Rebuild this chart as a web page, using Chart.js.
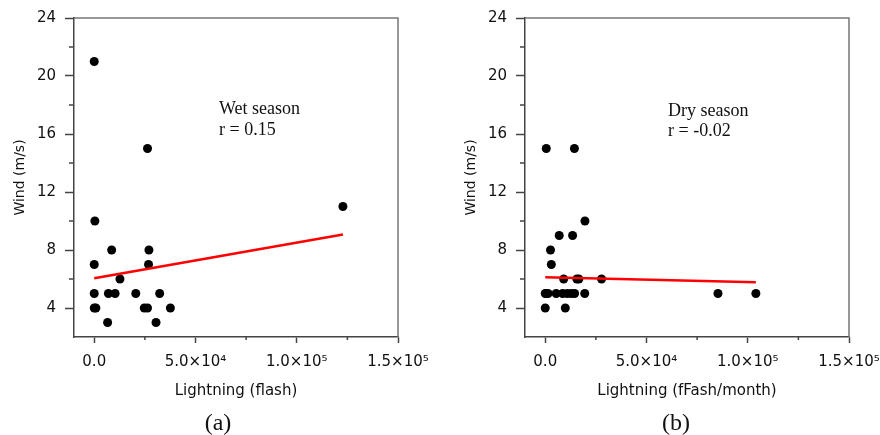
<!DOCTYPE html>
<html>
<head>
<meta charset="utf-8">
<script src="https://cdn.jsdelivr.net/npm/chart.js@4.4.1/dist/chart.umd.min.js"></script>
<style>
  html, body { margin: 0; padding: 0; background: #fff; }
  #wrap { position: relative; width: 880px; height: 435px; overflow: hidden; }
  canvas { position: absolute; top: 0; }
  #panelA { left: 0; }
  #panelB { left: 440px; }
</style>
</head>
<body>
<div id="wrap">
  <canvas id="panelA" width="440" height="435"></canvas>
  <canvas id="panelB" width="440" height="435"></canvas>
</div>
<script>
// Wet season (panel a)
const wetLightning = [0, 26300, 122800, 300, 8600, 27000, 0, 26800, 12700, 0, 7000, 10300, 20500, 32300, 0, 800, 24700, 26300, 37600, 6600, 30500];
const wetWind = [21, 15, 11, 10, 8, 8, 7, 7, 6, 5, 5, 5, 5, 5, 4, 4, 4, 4, 4, 3, 3];
const wetFitX = [0, 122800];
const wetFitY = [6.05, 9.07];

// Dry season (panel b)
const dryLightning = [500, 14400, 19600, 6900, 13500, 2600, 3000, 9100, 15600, 16600, 27800, 0, 500, 1400, 5400, 8600, 10900, 12900, 14500, 19500, 85300, 104000, 0, 9900];
const dryWind = [15, 15, 10, 9, 9, 8, 7, 6, 6, 6, 6, 5, 5, 5, 5, 5, 5, 5, 5, 5, 5, 5, 4, 4];
const dryFitX = [0, 104000];
const dryFitY = [6.12, 5.78];

// Axis ticks
const xTicks = [0, 50000, 100000, 150000];
const xTickLabels = ['0.0', '5.0×10⁴', '1.0×10⁵', '1.5×10⁵'];
const xMinorTicks = [25000, 75000, 125000];
const yTicks = [4, 8, 12, 16, 20, 24];
const yMinorTicks = [6, 10, 14, 18, 22];

const sansFont = "'DejaVu Sans', 'Liberation Sans', Arial, sans-serif";
const serifFont = "'Liberation Serif', 'Times New Roman', serif";
const axisColor = '#444';
const textColor = '#111';

// frame, minor ticks, notes and caption
const panelDecor = {
    id: 'panelDecor',
    afterDraw(chart, args, opts) {
        const c = chart.ctx;
        const area = chart.chartArea;
        const xs = chart.scales.x;
        const ys = chart.scales.y;
        c.save();
        c.strokeStyle = '#777';
        c.lineWidth = 1.5;
        c.beginPath();
        c.moveTo(area.left, area.top);
        c.lineTo(area.right, area.top);
        c.lineTo(area.right, area.bottom);
        c.stroke();

        c.strokeStyle = axisColor;
        c.beginPath();
        xMinorTicks.forEach(v => {
            const px = xs.getPixelForValue(v);
            c.moveTo(px, area.bottom);
            c.lineTo(px, area.bottom + 3);
        });
        yMinorTicks.forEach(v => {
            const py = ys.getPixelForValue(v);
            c.moveTo(area.left, py);
            c.lineTo(area.left - 5, py);
        });
        c.stroke();

        c.fillStyle = textColor;
        c.textBaseline = 'middle';
        c.font = '18px ' + serifFont;
        opts.notes.forEach(n => c.fillText(n.text, n.x, n.y));
        c.font = '24px ' + serifFont;
        c.textAlign = 'center';
        c.fillText(opts.caption.text, opts.caption.x, opts.caption.y);
        c.restore();
    }
};

function makePanel(canvasId, p) {
    const ctx = document.getElementById(canvasId);
    new Chart(ctx, {
        type: 'scatter',
        data: {
            datasets: [{
                type: 'line',
                label: 'fit',
                data: p.fitX.map((x, i) => ({ x: x, y: p.fitY[i] })),
                borderColor: '#ff0000',
                borderWidth: 2.5,
                pointRadius: 0,
                fill: false
            }, {
                label: 'obs',
                data: p.xs.map((x, i) => ({ x: x, y: p.ys[i] })),
                pointRadius: 4.5,
                pointBackgroundColor: '#000',
                pointBorderWidth: 0
            }]
        },
        options: {
            responsive: false,
            animation: false,
            layout: { padding: p.padding },
            plugins: {
                legend: { display: false },
                tooltip: { enabled: false },
                panelDecor: { notes: p.notes, caption: p.caption }
            },
            scales: {
                x: {
                    type: 'linear',
                    min: -10000,
                    max: 150000,
                    afterBuildTicks: s => { s.ticks = xTicks.map(v => ({ value: v })); },
                    afterFit: s => { s.height = 63; s.paddingLeft = 0; s.paddingRight = 0; },
                    ticks: {
                        callback: v => xTickLabels[xTicks.indexOf(v)],
                        font: { size: 15, family: sansFont },
                        color: textColor,
                        padding: 10,
                        maxRotation: 0,
                        autoSkip: false
                    },
                    grid: { display: true, drawOnChartArea: false, drawTicks: true, tickLength: 6, tickColor: axisColor, tickWidth: 1.5 },
                    border: { display: true, color: axisColor, width: 1.5 },
                    title: {
                        display: true,
                        text: p.xTitle,
                        font: { size: 15, family: sansFont },
                        color: textColor,
                        padding: { top: 0, bottom: 0 }
                    }
                },
                y: {
                    type: 'linear',
                    min: 2,
                    max: 24,
                    afterBuildTicks: s => { s.ticks = yTicks.map(v => ({ value: v })); },
                    afterFit: s => { s.width = 68; s.paddingTop = 0; s.paddingBottom = 0; },
                    ticks: {
                        font: { size: 15, family: sansFont },
                        color: textColor,
                        padding: 9
                    },
                    grid: { display: true, drawOnChartArea: false, drawTicks: true, tickLength: 9, tickColor: axisColor, tickWidth: 1.5 },
                    border: { display: true, color: axisColor, width: 1.5 },
                    title: {
                        display: true,
                        text: 'Wind (m/s)',
                        font: { size: 14, family: sansFont },
                        color: textColor,
                        padding: { top: 6, bottom: 0 }
                    }
                }
            }
        },
        plugins: [panelDecor]
    });
}

makePanel('panelA', {
    xs: wetLightning, ys: wetWind, fitX: wetFitX, fitY: wetFitY,
    xTitle: 'Lightning (flash)',
    padding: { left: 6, right: 42, top: 18, bottom: 35 },
    notes: [{ text: 'Wet season', x: 219, y: 109 }, { text: 'r = 0.15', x: 219, y: 130 }],
    caption: { text: '(a)', x: 218, y: 424 }
});

makePanel('panelB', {
    xs: dryLightning, ys: dryWind, fitX: dryFitX, fitY: dryFitY,
    xTitle: 'Lightning (fFash/month)',
    padding: { left: 17, right: 31, top: 18, bottom: 35 },
    notes: [{ text: 'Dry season', x: 228, y: 111 }, { text: 'r = -0.02', x: 228, y: 131 }],
    caption: { text: '(b)', x: 236, y: 424 }
});
</script>
</body>
</html>
